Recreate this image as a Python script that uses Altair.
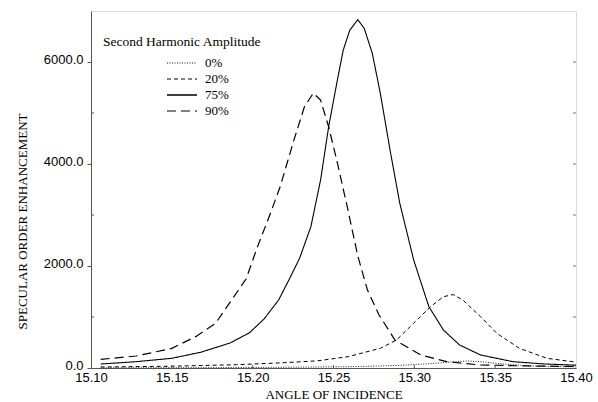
import altair as alt
import pandas as pd

# ---- data ----
series_names = ["0%", "20%", "75%", "90%"]

a_0 = [15.106, 15.150, 15.200, 15.260, 15.290, 15.310, 15.323, 15.333, 15.343, 15.355, 15.370, 15.385, 15.400]
v_0 = [5, 6, 10, 25, 50, 85, 120, 138, 118, 78, 45, 30, 22]

a_20 = [15.106, 15.150, 15.190, 15.217, 15.240, 15.259, 15.279, 15.289, 15.2995, 15.310,
        15.318, 15.324, 15.330, 15.341, 15.351, 15.365, 15.382, 15.400]
v_20 = [20, 35, 65, 100, 140, 222, 386, 549, 876, 1202,
        1398, 1440, 1333, 1006, 680, 386, 190, 115]

a_75 = [15.106, 15.128, 15.150, 15.168, 15.186, 15.198, 15.207, 15.216, 15.222, 15.229,
        15.236, 15.242, 15.247, 15.252, 15.256, 15.260, 15.265, 15.269, 15.274, 15.279,
        15.285, 15.291, 15.2996, 15.309, 15.318, 15.328, 15.341, 15.361, 15.380, 15.400]
v_75 = [78, 124, 190, 310, 490, 690, 960, 1330, 1700, 2150,
        2770, 3685, 4730, 5580, 6230, 6620, 6830, 6660, 6170, 5380,
        4270, 3230, 2117, 1202, 745, 451, 255, 124, 80, 55]

a_90 = [15.106, 15.128, 15.150, 15.165, 15.177, 15.188, 15.196, 15.203, 15.210, 15.217,
        15.2255, 15.232, 15.2375, 15.242, 15.247, 15.252, 15.2585, 15.265, 15.271, 15.278,
        15.288, 15.304, 15.320, 15.341, 15.370, 15.400]
v_90 = [170, 235, 385, 620, 876, 1380, 1750, 2380, 2950, 3554,
        4469, 5122, 5390, 5252, 4730, 4077, 3162, 2200, 1529, 1050,
        549, 255, 124, 59, 40, 30]

x_ticks = [15.10, 15.15, 15.20, 15.25, 15.30, 15.35, 15.40]
y_ticks = [0, 2000, 4000, 6000]
y_minor = [1000, 3000, 5000]

dash_styles = [[1, 1.5], [4, 3], [1, 0], [9, 5]]
widths = [0.9, 1.2, 1.3, 1.2]

rows = []
for name, xs, ys in zip(series_names, [a_0, a_20, a_75, a_90], [v_0, v_20, v_75, v_90]):
    for x, y in zip(xs, ys):
        rows.append({"series": name, "angle": x, "value": y})
df = pd.DataFrame(rows)

W, H = 485, 357
serif = "Liberation Serif"
sans = "Liberation Sans"

xscale = alt.Scale(domain=[15.10, 15.40], nice=False, zero=False)
yscale = alt.Scale(domain=[0, 7000], nice=False)

lines = alt.Chart(df).mark_line(color="black", strokeCap="butt").encode(
    x=alt.X("angle:Q", scale=xscale,
            axis=alt.Axis(title="ANGLE OF INCIDENCE", values=x_ticks, format=".2f",
                          grid=False, ticks=False, labelPadding=3,
                          labelFont=sans, labelFontSize=13, labelColor="black",
                          titleFont=serif, titleFontSize=13, titleFontWeight="normal",
                          titleColor="black", titlePadding=4,
                          domainColor="#555", labelFlush=False)),
    y=alt.Y("value:Q", scale=yscale,
            axis=alt.Axis(title="SPECULAR ORDER ENHANCEMENT", values=y_ticks, format=".1f",
                          grid=False, tickSize=4, tickColor="#555", labelPadding=4,
                          labelOffset=-3,
                          labelFont=sans, labelFontSize=13, labelColor="black",
                          titleFont=serif, titleFontSize=13, titleFontWeight="normal",
                          titleColor="black", titleX=-69, titleY=210,
                          titleBaseline="middle", domainColor="#555")),
    strokeDash=alt.StrokeDash("series:N", scale=alt.Scale(domain=series_names, range=dash_styles), legend=None),
    strokeWidth=alt.StrokeWidth("series:N", scale=alt.Scale(domain=series_names, range=widths), legend=None),
    detail="series:N",
)

# inward minor/major ticks
ytick_df = pd.DataFrame({"v": y_minor})
yminor = alt.Chart(ytick_df).mark_rule(color="#555", strokeWidth=1).encode(
    y=alt.Y("v:Q", scale=yscale), x=alt.value(0), x2=alt.value(3))
yright_df = pd.DataFrame({"v": y_ticks[1:] + y_minor})
yright = alt.Chart(yright_df).mark_rule(color="#777", strokeWidth=1).encode(
    y=alt.Y("v:Q", scale=yscale), x=alt.value(W - 3), x2=alt.value(W))
xtick_df = pd.DataFrame({"a": x_ticks[1:-1]})
xticks = alt.Chart(xtick_df).mark_rule(color="#555", strokeWidth=1).encode(
    x=alt.X("a:Q", scale=xscale), y=alt.value(H - 3), y2=alt.value(H))

# manual legend
leg_layers = []
leg_title = alt.Chart(pd.DataFrame({"t": ["Second Harmonic Amplitude"]})).mark_text(
    font=serif, fontSize=13.5, fontWeight="normal", align="left", baseline="middle", color="black"
).encode(text="t:N", x=alt.value(12), y=alt.value(31))
leg_layers.append(leg_title)
for i, name in enumerate(series_names):
    yy = 52 + 16 * i
    seg = alt.Chart(pd.DataFrame({"s": [name]})).mark_rule(
        color="black", strokeDash=dash_styles[i], strokeWidth=widths[i], strokeCap="butt"
    ).encode(x=alt.value(76), x2=alt.value(106), y=alt.value(yy))
    lab = alt.Chart(pd.DataFrame({"s": [name]})).mark_text(
        font=serif, fontSize=13, fontWeight="normal", align="left", baseline="middle", color="black"
    ).encode(text="s:N", x=alt.value(114), y=alt.value(yy))
    leg_layers += [seg, lab]

chart = alt.layer(lines, yminor, yright, xticks, *leg_layers).properties(
    width=W, height=H,
    autosize=alt.AutoSizeParams(type="none"),
    padding={"left": 91, "top": 11, "right": 22, "bottom": 34},
).configure_view(stroke="#999", strokeWidth=1).configure_text(
    font=serif, fontWeight="normal"
).configure(background="white")

chart.save("out.html", embed_options={"renderer": "svg", "actions": False})
